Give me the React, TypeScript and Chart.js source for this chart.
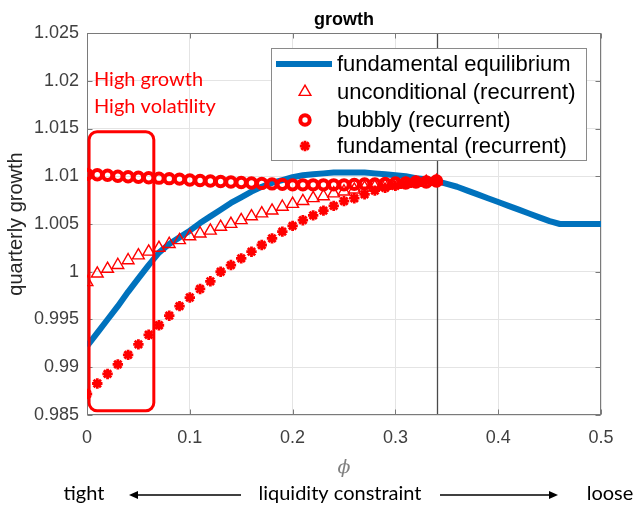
import React, { useEffect, useRef } from 'react';
import { Chart, registerables } from 'chart.js';
import { drawPoint } from 'chart.js/helpers';

Chart.register(...registerables);

// Liquidity-constraint parameter grid for the recurrent-equilibrium runs
const phi = [
  0, 0.01, 0.02, 0.03, 0.04, 0.05, 0.06, 0.07, 0.08, 0.09,
  0.1, 0.11, 0.12, 0.13, 0.14, 0.15, 0.16, 0.17, 0.18, 0.19,
  0.2, 0.21, 0.22, 0.23, 0.24, 0.25, 0.26, 0.27, 0.28, 0.29,
  0.3, 0.31, 0.32, 0.33, 0.34,
];

// Quarterly growth, unconditional (recurrent)
const unconditional = [
  0.9989, 0.9998, 1.0003, 1.0007, 1.0012, 1.0017, 1.0021, 1.0025, 1.0029, 1.0033,
  1.0037, 1.004, 1.0043, 1.0047, 1.005, 1.0054, 1.0058, 1.0061, 1.0064, 1.0068,
  1.0071, 1.0074, 1.0077, 1.0079, 1.0082, 1.0084, 1.0086, 1.0088, 1.0089, 1.009,
  1.0091, 1.0092, 1.0093, 1.0094, 1.0095,
];

// Quarterly growth, bubbly (recurrent)
const bubbly = [
  1.0102, 1.01015, 1.0101, 1.01, 1.00995, 1.0099, 1.00985, 1.0098, 1.00975, 1.0097,
  1.0096, 1.00955, 1.0095, 1.00945, 1.0094, 1.00935, 1.0093, 1.00925, 1.0092, 1.00915,
  1.0091, 1.0091, 1.0091, 1.0091, 1.0091, 1.0091, 1.00915, 1.0092, 1.0092, 1.00925,
  1.0093, 1.0093, 1.0094, 1.0094, 1.0095,
];

// Quarterly growth, fundamental (recurrent)
const fundamentalRecurrent = [
  0.9872, 0.9883, 0.9893, 0.9903, 0.9913, 0.9924, 0.9934, 0.9944, 0.9954, 0.9964,
  0.9973, 0.9982, 0.999, 1.0, 1.0007, 1.0014, 1.0021, 1.0028, 1.0035, 1.0042,
  1.0048, 1.0054, 1.0059, 1.0064, 1.0069, 1.0074, 1.0077, 1.0081, 1.0085, 1.0088,
  1.009, 1.0092, 1.0094, 1.0095, 1.0095,
];

// Parameter grid for the fundamental equilibrium curve
const phiEquilibrium = [
  0, 0.01, 0.02, 0.03, 0.04, 0.05, 0.06, 0.07, 0.08, 0.09,
  0.1, 0.11, 0.12, 0.13, 0.14, 0.15, 0.16, 0.17, 0.18, 0.19,
  0.2, 0.21, 0.22, 0.23, 0.24, 0.25, 0.26, 0.27, 0.28, 0.29,
  0.3, 0.31, 0.32, 0.33, 0.34, 0.35, 0.36, 0.37, 0.38, 0.39,
  0.4, 0.41, 0.42, 0.43, 0.44, 0.45, 0.46, 0.47, 0.48, 0.49, 0.5,
];

// Quarterly growth, fundamental equilibrium
const fundamentalEquilibrium = [
  0.9922, 0.9936, 0.995, 0.9964, 0.9979, 0.9993, 1.0007, 1.002, 1.0029, 1.0036,
  1.0043, 1.0051, 1.0058, 1.0065, 1.0072, 1.0078, 1.0084, 1.0089, 1.0093, 1.0096,
  1.0099, 1.0101, 1.0102, 1.0103, 1.0104, 1.0104, 1.0104, 1.0104, 1.0103, 1.0102,
  1.0101, 1.01, 1.0098, 1.0097, 1.0095, 1.0092, 1.0089, 1.0085, 1.0081, 1.0077,
  1.0073, 1.0069, 1.0065, 1.0061, 1.0057, 1.0053, 1.005, 1.005, 1.005, 1.005, 1.005,
];

const seriesLabels = [
  'fundamental equilibrium',
  'unconditional (recurrent)',
  'bubbly (recurrent)',
  'fundamental (recurrent)',
];

const xTicks = [0, 0.1, 0.2, 0.3, 0.4, 0.5];
const yTicks = [0.985, 0.99, 0.995, 1, 1.005, 1.01, 1.015, 1.02, 1.025];

// Upper end of the recurrent region
const phiBoundary = 0.34;

// Highlighted low-phi region (data units)
const highlightPhi = [0.002, 0.065];
const highlightGrowth = [0.98545, 1.01466];
const highlightNotes = ['High growth', 'High volatility'];

const chartTitle = 'growth';
const yTitle = 'quarterly growth';
const xTitle = 'ϕ';
const bottomLeft = 'tight';
const bottomMid = 'liquidity constraint';
const bottomRight = 'loose';

const RED = '#ff0000';
const BLUE = '#0072bd';
const SANS = '"Liberation Sans", Arial, sans-serif';
const NOTE_FONT = 'Lato, "Open Sans", sans-serif';

const fmt = (v: number) => String(parseFloat(v.toFixed(4)));

function drawArrow(ctx: CanvasRenderingContext2D, x0: number, x1: number, y: number) {
  const dir = Math.sign(x1 - x0);
  const head = 9;
  ctx.beginPath();
  ctx.moveTo(x0, y);
  ctx.lineTo(x1 - dir * head * 0.8, y);
  ctx.stroke();
  ctx.beginPath();
  ctx.moveTo(x1, y);
  ctx.lineTo(x1 - dir * head, y - 4);
  ctx.lineTo(x1 - dir * head, y + 4);
  ctx.closePath();
  ctx.fill();
}

const decorations = {
  id: 'decorations',
  beforeDatasetsDraw(chart: any) {
    const { ctx, chartArea: a, scales } = chart;
    const x = scales.x;
    const y = scales.y;
    ctx.save();
    // boundary of the recurrent region
    const bx = Math.round(x.getPixelForValue(phiBoundary)) + 0.5;
    ctx.strokeStyle = '#4a4a4a';
    ctx.lineWidth = 1.3;
    ctx.beginPath();
    ctx.moveTo(bx, a.top);
    ctx.lineTo(bx, a.bottom);
    ctx.stroke();

    // axes box with inward tick marks
    const L = Math.round(a.left) + 0.5;
    const R = Math.round(a.right) - 0.5;
    const T = Math.round(a.top) + 0.5;
    const B = Math.round(a.bottom) - 0.5;
    ctx.strokeStyle = '#7a7a7a';
    ctx.lineWidth = 1;
    ctx.strokeRect(L, T, R - L, B - T);
    const tl = 5;
    ctx.beginPath();
    for (const v of yTicks) {
      const py = Math.round(y.getPixelForValue(v)) + 0.5;
      ctx.moveTo(L, py); ctx.lineTo(L + tl, py);
      ctx.moveTo(R, py); ctx.lineTo(R - tl, py);
    }
    for (const v of xTicks) {
      const px = Math.round(x.getPixelForValue(v)) + 0.5;
      ctx.moveTo(px, B); ctx.lineTo(px, B - tl);
      ctx.moveTo(px, T); ctx.lineTo(px, T + tl);
    }
    ctx.stroke();
    ctx.restore();
  },
  afterDraw(chart: any) {
    const { ctx, chartArea: a, scales } = chart;
    const x = scales.x;
    const y = scales.y;
    ctx.save();

    // title
    ctx.fillStyle = '#000';
    ctx.font = `bold 18px ${SANS}`;
    ctx.textAlign = 'center';
    ctx.textBaseline = 'alphabetic';
    ctx.fillText(chartTitle, (a.left + a.right) / 2, 25);

    // legend
    const lw = 315;
    const lh = 112;
    const lx = a.right - 15 - lw;
    const ly = a.top + 15;
    ctx.fillStyle = '#fff';
    ctx.fillRect(lx, ly, lw, lh);
    ctx.strokeStyle = '#8a8a8a';
    ctx.lineWidth = 1;
    ctx.strokeRect(Math.round(lx) + 0.5, Math.round(ly) + 0.5, lw, lh);
    const rows = [16, 44, 72, 98];
    chart.data.datasets.forEach((ds: any, i: number) => {
      const ry = ly + rows[i];
      if (ds.showLine !== false) {
        ctx.strokeStyle = ds.borderColor;
        ctx.lineWidth = ds.borderWidth;
        ctx.beginPath();
        ctx.moveTo(lx + 5, ry);
        ctx.lineTo(lx + 61, ry);
        ctx.stroke();
      } else {
        ctx.strokeStyle = ds.pointBorderColor;
        ctx.fillStyle = ds.pointBackgroundColor;
        ctx.lineWidth = ds.pointBorderWidth;
        drawPoint(ctx, {
          pointStyle: ds.pointStyle,
          radius: ds.pointRadius,
          borderWidth: ds.pointBorderWidth,
          rotation: 0,
        } as any, lx + 34, ry);
      }
      ctx.fillStyle = '#000';
      ctx.font = `22px ${SANS}`;
      ctx.textAlign = 'left';
      ctx.textBaseline = 'middle';
      ctx.fillText(ds.label, lx + 66, ry + 1);
    });

    // highlighted region
    const hx0 = x.getPixelForValue(highlightPhi[0]);
    const hx1 = x.getPixelForValue(highlightPhi[1]);
    const hy0 = y.getPixelForValue(highlightGrowth[1]);
    const hy1 = y.getPixelForValue(highlightGrowth[0]);
    ctx.strokeStyle = RED;
    ctx.lineWidth = 3;
    ctx.beginPath();
    (ctx as any).roundRect(hx0, hy0, hx1 - hx0, hy1 - hy0, 8);
    ctx.stroke();

    ctx.fillStyle = RED;
    ctx.font = `20px ${NOTE_FONT}`;
    ctx.textAlign = 'left';
    ctx.textBaseline = 'middle';
    ctx.fillText(highlightNotes[0], a.left + 7, 80);
    ctx.fillText(highlightNotes[1], a.left + 7, 107);

    // liquidity constraint direction
    ctx.fillStyle = '#000';
    ctx.strokeStyle = '#000';
    ctx.lineWidth = 1.6;
    ctx.font = `20px ${NOTE_FONT}`;
    ctx.textAlign = 'center';
    ctx.textBaseline = 'middle';
    const ty = 494;
    ctx.fillText(bottomLeft, 84, ty);
    ctx.fillText(bottomMid, 340, ty);
    ctx.fillText(bottomRight, 610, ty);
    drawArrow(ctx, 241, 129, ty + 1);
    drawArrow(ctx, 440, 558, ty + 1);

    ctx.restore();
  },
};

export default function App() {
  const canvasRef = useRef<HTMLCanvasElement | null>(null);

  useEffect(() => {
    document.body.style.margin = '0';
    const canvas = canvasRef.current;
    if (!canvas) return;

    const toPoints = (xs: number[], ys: number[]) => xs.map((v, i) => ({ x: v, y: ys[i] }));

    const chart = new Chart(canvas, {
      type: 'line',
      data: {
        datasets: [
          {
            label: seriesLabels[0],
            data: toPoints(phiEquilibrium, fundamentalEquilibrium),
            borderColor: BLUE,
            borderWidth: 6,
            pointRadius: 0,
            tension: 0,
            borderJoinStyle: 'round',
            order: 3,
          },
          {
            label: seriesLabels[1],
            data: toPoints(phi, unconditional),
            showLine: false,
            pointStyle: 'triangle',
            pointRadius: 6.8,
            pointBorderWidth: 1.4,
            pointBorderColor: RED,
            pointBackgroundColor: 'rgba(0,0,0,0)',
            order: 2,
          },
          {
            label: seriesLabels[2],
            data: toPoints(phi, bubbly),
            showLine: false,
            pointStyle: 'circle',
            pointRadius: 4.7,
            pointBorderWidth: 4,
            pointBorderColor: RED,
            pointBackgroundColor: 'rgba(0,0,0,0)',
            order: 1,
          },
          {
            label: seriesLabels[3],
            data: toPoints(phi, fundamentalRecurrent),
            showLine: false,
            pointStyle: 'star',
            pointRadius: 5.2,
            pointBorderWidth: 2.8,
            pointBorderColor: RED,
            pointBackgroundColor: RED,
            order: 0,
          },
        ] as any,
      },
      options: {
        responsive: false,
        animation: false,
        devicePixelRatio: 1,
        layout: { padding: { left: 0, right: 35, top: 33, bottom: 0 } },
        plugins: {
          legend: { display: false },
          tooltip: { enabled: false },
          title: { display: false },
        },
        scales: {
          x: {
            type: 'linear',
            min: 0,
            max: 0.5,
            afterBuildTicks: (s: any) => { s.ticks = xTicks.map((v) => ({ value: v })); },
            afterFit: (s: any) => { s.height = 90; },
            ticks: {
              callback: (v: any) => fmt(Number(v)),
              font: { family: SANS, size: 18 },
              color: '#404040',
              padding: 12,
              maxRotation: 0,
            },
            grid: { color: '#e4e4e4', lineWidth: 1, drawTicks: false },
            border: { display: false },
            title: {
              display: true,
              text: xTitle,
              font: { family: '"DejaVu Serif", serif', size: 19, style: 'italic' },
              color: '#808080',
              padding: { top: 0, bottom: 26 },
            },
          },
          y: {
            type: 'linear',
            min: 0.985,
            max: 1.025,
            afterBuildTicks: (s: any) => { s.ticks = yTicks.map((v) => ({ value: v })); },
            afterFit: (s: any) => { s.width = 87; },
            ticks: {
              callback: (v: any) => fmt(Number(v)),
              font: { family: SANS, size: 18 },
              color: '#404040',
              padding: 8,
            },
            grid: { color: '#e4e4e4', lineWidth: 1, drawTicks: false },
            border: { display: false },
            title: {
              display: true,
              text: yTitle,
              font: { family: SANS, size: 20 },
              color: '#262626',
              padding: { top: 4, bottom: 0 },
            },
          },
        },
      },
      plugins: [decorations],
    } as any);

    return () => chart.destroy();
  }, []);

  return (
    <div style={{ width: 636, height: 505, background: '#fff' }}>
      <canvas ref={canvasRef} width={636} height={505} style={{ display: 'block', width: 636, height: 505 }} />
    </div>
  );
}
